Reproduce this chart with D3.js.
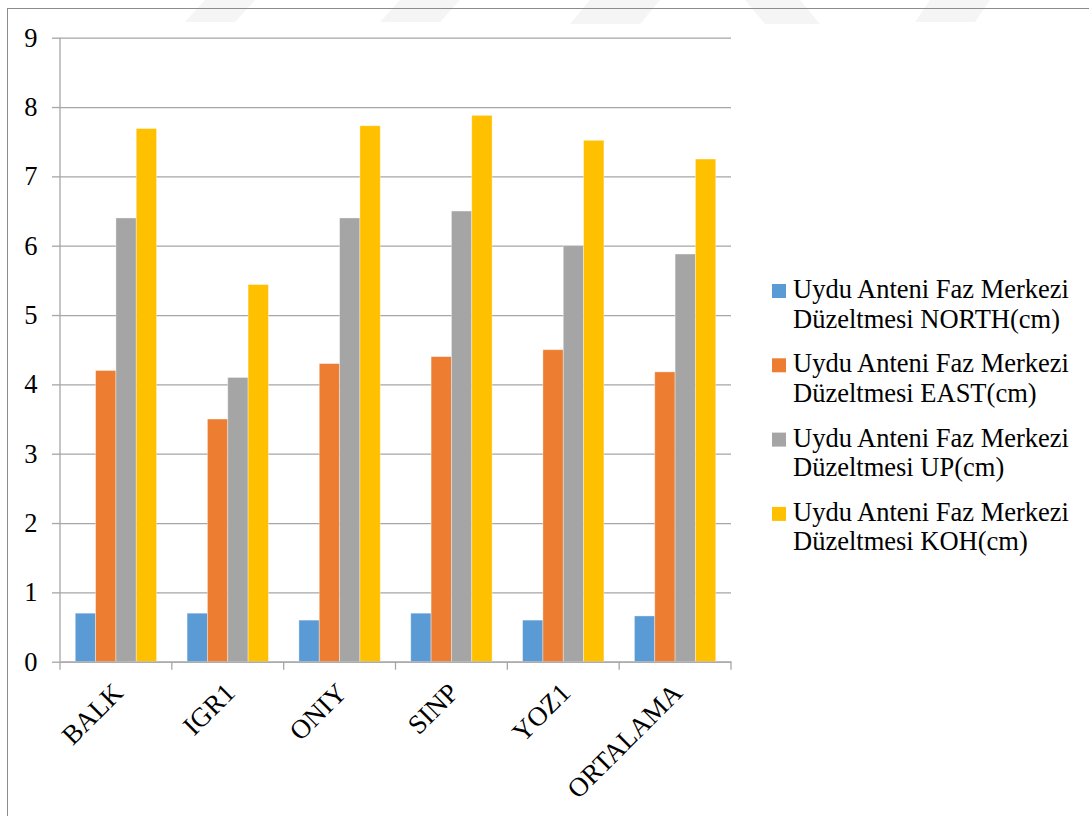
<!DOCTYPE html>
<html>
<head>
<meta charset="utf-8">
<script src="https://cdn.jsdelivr.net/npm/d3@7"></script>
<style>
  html, body { margin: 0; padding: 0; background: #fff; }
  svg { display: block; }
  text { font-family: "Liberation Serif", "Times New Roman", serif; fill: #000; }
</style>
</head>
<body>
<svg id="chart" width="1089" height="816"></svg>
<script>
// Stations and the averaged column
const categories = ["BALK", "IGR1", "ONIY", "SINP", "YOZ1", "ORTALAMA"];

// Satellite antenna phase-centre corrections per component (cm)
const north = [0.70, 0.70, 0.60, 0.70, 0.60, 0.66];
const east  = [4.20, 3.50, 4.30, 4.40, 4.50, 4.18];
const up    = [6.40, 4.10, 6.40, 6.50, 6.00, 5.88];
const koh   = [7.69, 5.44, 7.73, 7.88, 7.52, 7.25];

const seriesNames = [
  ["Uydu Anteni Faz Merkezi", "Düzeltmesi NORTH(cm)"],
  ["Uydu Anteni Faz Merkezi", "Düzeltmesi EAST(cm)"],
  ["Uydu Anteni Faz Merkezi", "Düzeltmesi UP(cm)"],
  ["Uydu Anteni Faz Merkezi", "Düzeltmesi KOH(cm)"]
];
const seriesColors = ["#5B9BD5", "#ED7D31", "#A5A5A5", "#FFC000"];
const yTicks = [0, 1, 2, 3, 4, 5, 6, 7, 8, 9];

const seriesValues = [north, east, up, koh];
const rows = categories.map((c, i) => ({
  cat: c,
  vals: seriesValues.map((s, k) => ({ key: k, value: s[i] }))
}));

const svg = d3.select("#chart");

// faint background watermark strokes along the top edge
const wm = svg.append("g").attr("fill", "#f5f5f5");
[[205, 0, 255, 0, 235, 22, 185, 22], [400, 0, 460, 0, 440, 22, 380, 22],
 [590, 0, 660, 0, 640, 24, 570, 24], [745, 0, 800, 0, 820, 24, 765, 24],
 [930, 0, 990, 0, 975, 22, 915, 22]].forEach(p => {
  wm.append("polygon").attr("points", d3.range(0, 8, 2).map(j => p[j] + "," + p[j + 1]).join(" "));
});

// chart frame
svg.append("rect")
  .attr("x", 7.5).attr("y", 8.5)
  .attr("width", 1100).attr("height", 830)
  .attr("fill", "none").attr("stroke", "#8c8c8c").attr("stroke-width", 1);

const plot = { left: 60, right: 731, top: 37.7, bottom: 661.7 };

const x = d3.scaleBand().domain(categories).range([plot.left, plot.right]).paddingInner(0).paddingOuter(0);
const y = d3.scaleLinear().domain([0, 9]).range([plot.bottom, plot.top]);

const groupPad = 0.1364; // share of each band left empty on each side
const x1 = d3.scaleBand().domain(d3.range(4))
  .range([x.bandwidth() * groupPad, x.bandwidth() * (1 - groupPad)]).padding(0);

// horizontal gridlines with short left ticks
const gy = svg.append("g")
  .attr("transform", `translate(${plot.left},0)`)
  .call(d3.axisLeft(y).tickValues(yTicks).tickSize(-(plot.right - plot.left)).tickFormat(""));
gy.select(".domain").remove();
gy.selectAll(".tick line").attr("stroke", "#a6a6a6").attr("stroke-width", 1.3);
gy.selectAll(".tick").append("line")
  .attr("x1", -8).attr("x2", 0).attr("stroke", "#a6a6a6").attr("stroke-width", 1.3);

// y tick labels
svg.append("g").selectAll("text").data(yTicks).join("text")
  .attr("x", 37.5).attr("y", d => y(d))
  .attr("dy", "0.34em")
  .attr("text-anchor", "end")
  .style("font-size", "26.5px")
  .text(d => d);

// bars
svg.append("g").selectAll("g").data(rows).join("g")
  .attr("transform", d => `translate(${x(d.cat)},0)`)
  .selectAll("rect").data(d => d.vals).join("rect")
  .attr("x", d => x1(d.key))
  .attr("y", d => y(d.value))
  .attr("width", x1.bandwidth())
  .attr("height", d => y(0) - y(d.value))
  .attr("fill", d => seriesColors[d.key])
  .attr("stroke", "#ffffff").attr("stroke-opacity", 0.45).attr("stroke-width", 0.8);

// vertical axis line
svg.append("line")
  .attr("x1", plot.left).attr("x2", plot.left)
  .attr("y1", plot.top).attr("y2", plot.bottom)
  .attr("stroke", "#a6a6a6").attr("stroke-width", 1.3);

// category axis
const gx = svg.append("g")
  .attr("transform", `translate(0,${plot.bottom})`)
  .call(d3.axisBottom(x).tickSize(0).tickFormat(""));
gx.select(".domain").attr("stroke", "#a6a6a6").attr("stroke-width", 1.3);
gx.selectAll(".tick").remove();
const bounds = categories.map(c => x(c)).concat([plot.right]);
gx.selectAll("line.sep").data(bounds).join("line")
  .attr("class", "sep")
  .attr("x1", d => d).attr("x2", d => d)
  .attr("y1", 0).attr("y2", 8)
  .attr("stroke", "#a6a6a6").attr("stroke-width", 1.3);

// rotated category labels
svg.append("g").selectAll("text").data(categories).join("text")
  .attr("transform", d => `translate(${x(d) + x.bandwidth() / 2 + 2},${plot.bottom + 26}) rotate(-45)`)
  .attr("text-anchor", "end")
  .attr("dy", "0.35em")
  .style("font-size", "27px")
  .text(d => d);

// legend
const legend = svg.append("g").attr("transform", "translate(772,284)");
const item = legend.selectAll("g").data(seriesNames).join("g")
  .attr("transform", (d, i) => `translate(0,${i * 74.3})`);
item.append("rect")
  .attr("width", 14).attr("height", 14)
  .attr("fill", (d, i) => seriesColors[i]);
item.append("text")
  .attr("x", 21).attr("y", 14)
  .style("font-size", "26.5px")
  .selectAll("tspan").data(d => d).join("tspan")
  .attr("x", 21).attr("dy", (d, i) => i === 0 ? 0 : 29.5)
  .text(d => d);
</script>
</body>
</html>
